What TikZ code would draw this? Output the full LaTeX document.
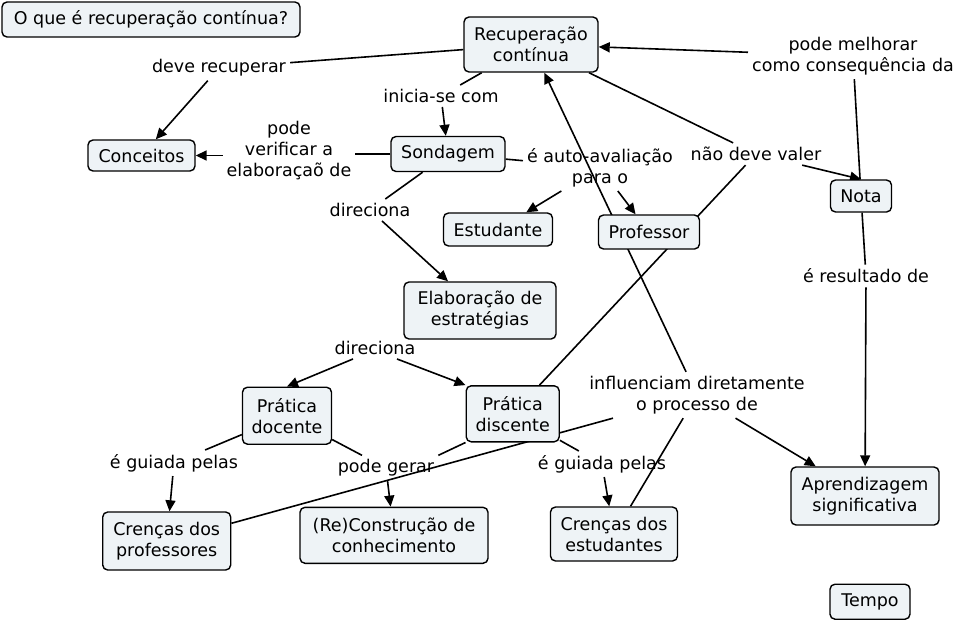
\documentclass[tikz,border=0pt]{standalone}
\usepackage{fontspec}
\setmainfont{DejaVu Sans}
\usetikzlibrary{arrows.meta}
\pgfdeclarelayer{bg}
\pgfsetlayers{bg,main}
\definecolor{boxfill}{RGB}{238,243,246}
\begin{document}
\begin{tikzpicture}[x=1pt,y=-1pt,
  txt/.style={font=\fontsize{17.5}{21}\selectfont, align=center},
  box/.style={txt, draw=black, line width=1.4pt, rounded corners=5pt, fill=boxfill, inner sep=0pt},
  phr/.style={txt, inner sep=4pt},
  con/.style={line width=1.6pt},
  arr/.style={con, -{Triangle[length=11pt,width=10pt]}}]
\useasboundingbox (0,0) rectangle (966,622);
% concepts
\node[box, minimum width=298pt, minimum height=35pt] (q) at (151,19.5) {O que é recuperação contínua?};
\node[box, minimum width=134pt, minimum height=55pt] (rec) at (531,44.5) {Recuperação\\contínua};
\node[box, minimum width=107pt, minimum height=31pt] (conc) at (141.5,155.5) {Conceitos};
\node[box, minimum width=114pt, minimum height=35pt] (sond) at (448,154) {Sondagem};
\node[box, minimum width=109pt, minimum height=33pt] (est) at (498,229.5) {Estudante};
\node[box, minimum width=101pt, minimum height=34pt] (prof) at (649,232) {Professor};
\node[box, minimum width=61pt, minimum height=32pt] (nota) at (861,196) {Nota};
\node[box, minimum width=152pt, minimum height=57pt] (elab) at (480,310.5) {Elaboração de\\estratégias};
\node[box, minimum width=89pt, minimum height=57pt] (pdoc) at (287,415.7) {Prática\\docente};
\node[box, minimum width=93pt, minimum height=56pt] (pdis) at (512.7,413.8) {Prática\\discente};
\node[box, minimum width=128pt, minimum height=58pt] (cprof) at (166.7,541) {Crenças dos\\professores};
\node[box, minimum width=188pt, minimum height=56pt] (recon) at (394,535.3) {(Re)Construção de\\conhecimento};
\node[box, minimum width=127pt, minimum height=54pt] (cest) at (614,534) {Crenças dos\\estudantes};
\node[box, minimum width=148pt, minimum height=58pt] (apr) at (865,496) {Aprendizagem\\significativa};
\node[box, minimum width=80pt, minimum height=35pt] (tempo) at (870,601.7) {Tempo};
% linking phrases
\node[phr] (dr) at (219,68) {deve recuperar};
\node[phr] (ic) at (441,96) {inicia-se com};
\node[phr] (pv) at (289,151) {pode\\verificar a\\elaboraçaõ de};
\node[phr] (aa) at (600,167.5) {é auto-avaliação\\para o};
\node[phr] (nv) at (756,154) {não deve valer};
\node[phr] (pm) at (853,56) {pode melhorar\\como consequência da};
\node[phr] (d1) at (370,210) {direciona};
\node[phr] (d2) at (375,348) {direciona};
\node[phr] (er) at (866,276) {é resultado de};
\node[phr] (g1) at (174,463) {é guiada pelas};
\node[phr] (pg) at (386,468) {pode gerar};
\node[phr] (g2) at (602,464) {é guiada pelas};
\node[phr] (inf) at (697,395) {influenciam diretamente\\o processo de};
% connectors
\begin{pgfonlayer}{bg}
\draw[con] (rec) -- (dr);
\draw[arr] (dr) -- (conc);
\draw[con] (rec) -- (ic);
\draw[arr] (ic) -- (sond);
\draw[con] (sond.west) -- (sond.west -| pv.east);
\draw[arr] (pv.west |- conc.east) -- (conc.east);
\draw[con] (sond) -- (aa);
\draw[arr] (aa) -- (est);
\draw[arr] (aa) -- (prof);
\draw[con] (sond) -- (d1);
\draw[arr] (d1) -- (elab);
\draw[arr] ([xshift=-22pt]d2.south) -- (pdoc.north);
\draw[arr] ([xshift=22pt]d2.south) -- (pdis.north west);
\draw[con] (pdoc) -- (g1);
\draw[arr] (g1) -- (cprof);
\draw[con] (pdoc) -- (pg);
\draw[con] (pdis.south west) -- (pg.north east);
\draw[arr] (pg) -- (recon);
\draw[con] (pdis) -- (g2);
\draw[arr] (g2) -- (cest);
\draw[con] (cprof) -- (inf);
\draw[con] (cest) -- (inf);
\draw[arr] (inf) -- (rec);
\draw[arr] (inf) -- (apr);
\draw[con] (pdis) -- (nv);
\draw[con] (rec) -- (nv);
\draw[arr] (nv) -- (nota.north);
\draw[con] (nota) -- (pm);
\draw[arr] (pm) -- (rec);
\draw[con] (nota) -- (er);
\draw[arr] (er) -- (apr);
\end{pgfonlayer}
\end{tikzpicture}
\end{document}
